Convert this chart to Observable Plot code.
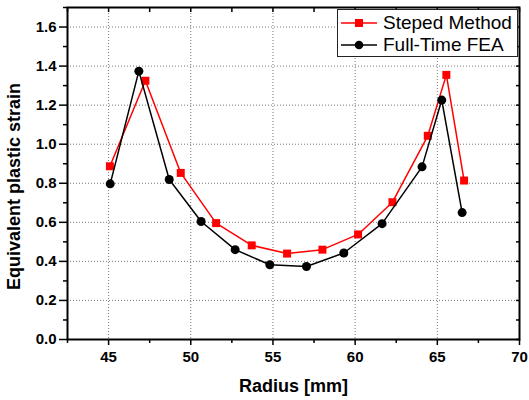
<!DOCTYPE html>
<html>
<head>
<meta charset="utf-8">
<script src="https://cdn.jsdelivr.net/npm/d3@7"></script>
<script src="https://cdn.jsdelivr.net/npm/@observablehq/plot@0.6"></script>
<style>
  body { margin: 0; background: #fff; }
  #wrap { position: relative; width: 529px; height: 400px; font-family: "Liberation Sans", Arial, sans-serif; }
  #legend { position: absolute; left: 337px; top: 9px; width: 181px; height: 48px; border: 1.5px solid #222; background: #fff; box-sizing: border-box; font-size: 19px; }
  .row { position: absolute; left: 3px; height: 22px; display: flex; align-items: center; }
  .row span { margin-left: 6px; }
</style>
</head>
<body>
<div id="wrap"><div id="chart"></div><div id="legend"></div></div>
<script>
const seriesNames = ["Steped Method", "Full-Time FEA"];
const seriesColors = ["#ff0000", "#000000"];

const stepedRadius = [45.08, 47.24, 49.39, 51.54, 53.71, 55.86, 58.01, 60.18, 62.27, 64.42, 65.55, 66.63];
const stepedStrain = [0.887, 1.325, 0.853, 0.596, 0.482, 0.440, 0.460, 0.538, 0.703, 1.043, 1.355, 0.814];

const feaRadius = [45.10, 46.84, 48.69, 50.63, 52.70, 54.81, 57.04, 59.31, 61.64, 64.07, 65.27, 66.51];
const feaStrain = [0.797, 1.374, 0.819, 0.604, 0.460, 0.383, 0.374, 0.443, 0.593, 0.884, 1.226, 0.650];

const xMajor = [45, 50, 55, 60, 65, 70];
const xMinor = [42.5, 47.5, 52.5, 57.5, 62.5, 67.5];
const yMajor = [0, 0.2, 0.4, 0.6, 0.8, 1.0, 1.2, 1.4, 1.6];
const yMinor = [0.1, 0.3, 0.5, 0.7, 0.9, 1.1, 1.3, 1.5, 1.7];
const xTitle = "Radius [mm]";
const yTitle = "Equivalent plastic strain";

const steped = stepedRadius.map((r, i) => ({r, s: stepedStrain[i]}));
const fea = feaRadius.map((r, i) => ({r, s: feaStrain[i]}));

const font = "Liberation Sans, Arial, sans-serif";

const chart = Plot.plot({
  width: 529, height: 400,
  marginLeft: 67, marginRight: 10, marginTop: 7, marginBottom: 61,
  style: { fontFamily: font, background: "#fff" },
  x: { domain: [42.5, 70] },
  y: { domain: [0, 1.7] },
  marks: [
    Plot.gridX(xMajor.slice(0, 5), { stroke: "#777", strokeOpacity: 1, strokeDasharray: "1,2", strokeWidth: 1 }),
    Plot.gridY(yMajor.slice(1), { stroke: "#777", strokeOpacity: 1, strokeDasharray: "1,2", strokeWidth: 1 }),
    Plot.axisX({ ticks: xMajor, tickSize: 6, tickPadding: 6, tickFormat: d3.format("d"), fontSize: 15, fontWeight: "bold", label: null, strokeWidth: 1.5, color: "#000" }),
    Plot.axisX({ ticks: xMinor, tickSize: 4, tickFormat: () => "", label: null, strokeWidth: 1.5 }),
    Plot.axisX({ anchor: "top", ticks: xMajor.concat(xMinor), tickSize: -4, tickFormat: () => "", label: null, strokeWidth: 1.5 }),
    Plot.axisY({ ticks: yMajor, tickSize: 8, tickPadding: 3, tickFormat: d3.format(".1f"), fontSize: 15, fontWeight: "bold", label: null, strokeWidth: 1.5, color: "#000" }),
    Plot.axisY({ ticks: yMinor, tickSize: 4, tickFormat: () => "", label: null, strokeWidth: 1.5 }),
    Plot.axisY({ anchor: "right", ticks: yMajor.concat(yMinor), tickSize: -4, tickFormat: () => "", label: null, strokeWidth: 1.5 }),
    Plot.frame({ stroke: "#000", strokeWidth: 2 }),
    Plot.line(steped, { x: "r", y: "s", stroke: seriesColors[0], strokeWidth: 1.5 }),
    Plot.dot(steped, { x: "r", y: "s", symbol: "square", r: 4.5, fill: seriesColors[0], stroke: "none" }),
    Plot.line(fea, { x: "r", y: "s", stroke: seriesColors[1], strokeWidth: 1.5 }),
    Plot.dot(fea, { x: "r", y: "s", symbol: "circle", r: 4.5, fill: seriesColors[1], stroke: "none" }),
    Plot.text([xTitle], { frameAnchor: "bottom", textAnchor: "middle", dy: 52, fontSize: 18, fontWeight: "bold", fill: "#000" }),
    Plot.text([yTitle], { frameAnchor: "left", textAnchor: "middle", rotate: -90, dx: -53, dy: 13, fontSize: 18, fontWeight: "bold", fill: "#000" })
  ]
});
document.getElementById("chart").appendChild(chart);

const legend = document.getElementById("legend");
const symbols = ["square", "circle"];
seriesNames.forEach((name, i) => {
  const row = document.createElement("div");
  row.className = "row";
  row.style.top = (i === 0 ? 2 : 24) + "px";
  const sw = `<svg width="36" height="12"><line x1="0" x2="36" y1="6" y2="6" stroke="${seriesColors[i]}" stroke-width="1.5"/>` +
    (symbols[i] === "square"
      ? `<rect x="14" y="2" width="8" height="8" fill="${seriesColors[i]}"/>`
      : `<circle cx="18" cy="6" r="4.3" fill="${seriesColors[i]}"/>`) + `</svg>`;
  row.innerHTML = sw + `<span>${name}</span>`;
  legend.appendChild(row);
});
</script>
</body>
</html>
